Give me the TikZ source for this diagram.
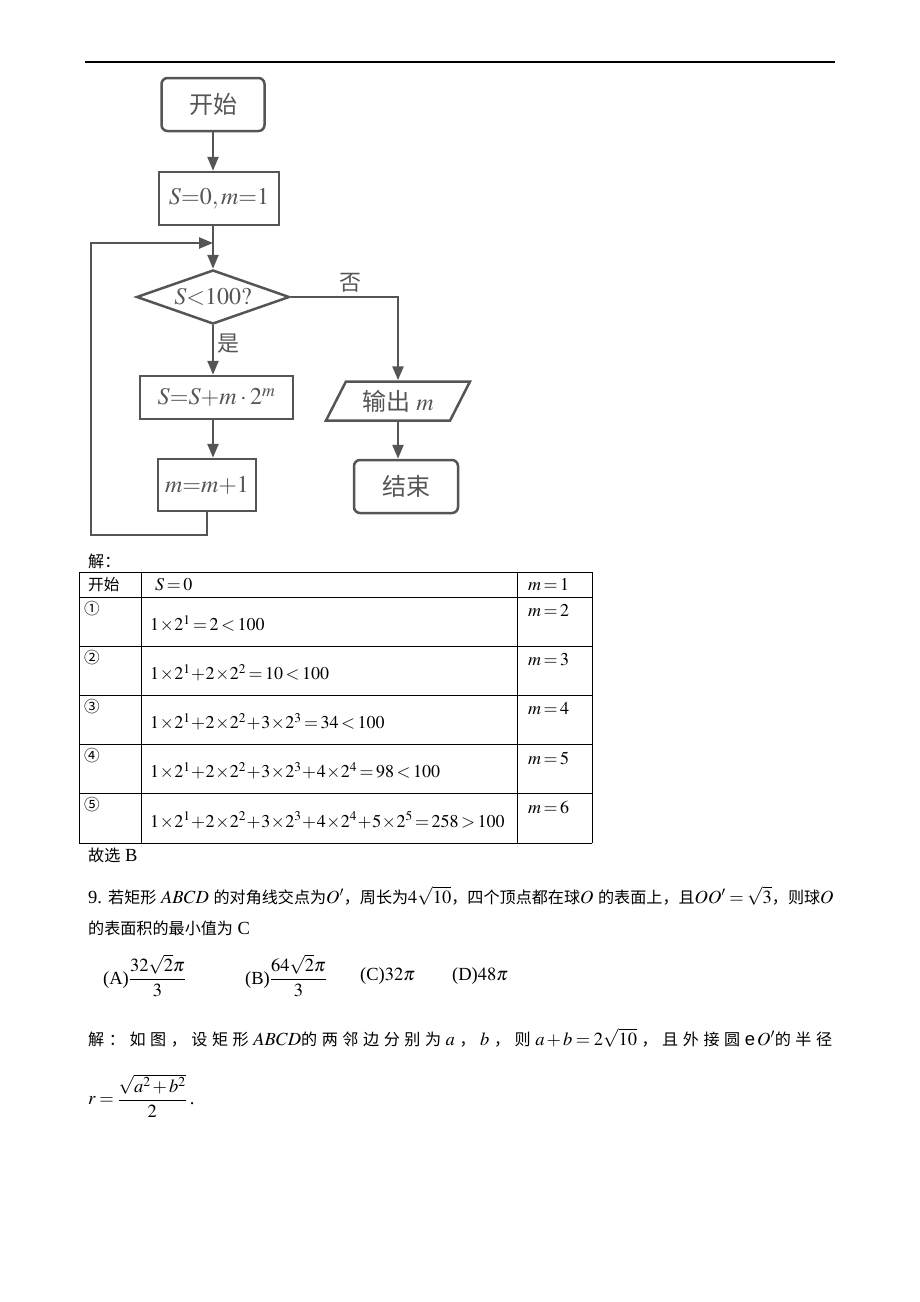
\documentclass[tikz,border=0pt]{standalone}
\usepackage{amsmath}
\usepackage{mathptmx}
\usepackage{fontspec}
\setmainfont{Liberation Serif}
\setsansfont{Liberation Sans}
\newfontfamily\cjk[Scale=0.87]{Noto Sans CJK SC}
\newfontfamily\cjkflow{Noto Sans CJK SC}
\usetikzlibrary{shapes.geometric,arrows.meta}
\definecolor{flowgray}{HTML}{555555}
\newcommand\tightmath{\medmuskip=2mu\thickmuskip=3.5mu}
\newcommand\tablemath{\medmuskip=0.6mu\thickmuskip=2.5mu}

\begin{document}
\begin{tikzpicture}[x=1pt,y=-1pt,
    flow/.style={draw=flowgray, line width=2.5pt, text=flowgray, inner sep=0pt, font=\fontsize{24}{28}\selectfont},
    term/.style={flow, rounded corners=6pt, minimum width=103pt, minimum height=53pt},
    proc/.style={flow, minimum height=43pt},
    decision/.style={flow, diamond, aspect=2.8, minimum width=153pt, minimum height=54pt},
    io/.style={flow, trapezium, trapezium left angle=48, trapezium right angle=132,
      trapezium stretches body, minimum width=144pt, minimum height=39pt},
    arr/.style={draw=flowgray, line width=2.5pt, -{Triangle[width=11pt,length=14pt]}},
    lbl/.style={text=flowgray, inner sep=3pt, font=\cjkflow\fontsize{22}{26}\selectfont},
    body/.style={anchor=west, inner sep=0pt, font=\fontsize{18.5}{22}\selectfont\tightmath},
    tab/.style={anchor=west, inner sep=0pt, font=\fontsize{18}{21}\selectfont\tablemath},
    tbl/.style={line width=1pt}]
  \useasboundingbox (0,0) rectangle (920,1302);
  \draw[line width=1.5pt] (85,62) -- (835,62);

  % flowchart
  \node[term] (start) at (213,104.5) {\cjkflow 开始};
  \node[proc, minimum width=120pt, minimum height=53pt] (init) at (219,198.5) {$S{=}0,m{=}1$};
  \node[decision] (cond) at (213,297) {$S{<}100?$};
  \node[proc, minimum width=153pt] (update) at (216.5,397.5) {$S{=}S{+}m\cdot 2^m$};
  \node[proc, minimum width=98pt, minimum height=52pt] (incr) at (207,485) {$m{=}m{+}1$};
  \node[io] (output) at (398,401) {{\cjkflow 输出} $m$};
  \node[term, minimum width=104pt] (stop) at (406,486.5) {\cjkflow 结束};
  \coordinate (join) at (213,243);
  \coordinate (loop) at (91,535);

  \draw[arr] (start) -- (start |- init.north);
  \draw[arr] (init.south -| cond.north) -- (cond.north);
  \draw[arr] (incr.south) |- (loop) |- (join);
  \draw[arr] (cond.south) -- (cond.south |- update.north) node[lbl, pos=.38, right] {是};
  \draw[arr] (cond.east) -| (output.north) node[lbl, pos=.28, above] {否};
  \draw[arr] (update.south -| cond.south) -- (cond.south |- incr.north);
  \draw[arr] (output.south) -- (output.south |- stop.north);

  % table
  \node[body] (sol) at (88,561) {\cjk 解：};
  \foreach \y in {572,597,646,695,744,793,843}
    \draw[tbl] (79,\y) -- (592,\y);
  \foreach \x in {79,141,517,592}
    \draw[tbl] (\x,572) -- (\x,843);
  \node[tab] (head) at (88,585) {\cjk 开始};
  \node[tab] (sum0) at (155,585) {$S=0$};
  \node[tab] (m1) at (528,585) {$m=1$};
  \foreach \top/\n/\f/\k in {
      597/①/{1\times2^1=2<100}/2,
      646/②/{1\times2^1+2\times2^2=10<100}/3,
      695/③/{1\times2^1+2\times2^2+3\times2^3=34<100}/4,
      744/④/{1\times2^1+2\times2^2+3\times2^3+4\times2^4=98<100}/5,
      793/⑤/{1\times2^1+2\times2^2+3\times2^3+4\times2^4+5\times2^5=258>100}/6} {
    \node[tab] (step\k) at (84,\top+12) {\cjk \n};
    \node[tab] (sum\k) at (150,\top+27) {$\f$};
    \node[tab] (m\k) at (528,\top+14) {$m=\k$};
  }
  \node[body] (pick) at (88,855) {{\cjk 故选} B};

  % question 9
  \node[body] (q9) at (88,896) {9. {\cjk 若矩形} $ABCD$ {\cjk 的对角线交点为}$O'${\cjk ，周长为}$4\sqrt{10}${\cjk ，四个顶点都在球}$O$ {\cjk 的表面上，且}$OO'=\sqrt{3}${\cjk ，则球}$O$};
  \node[body] (q9b) at (88,928) {{\cjk 的表面积的最小值为} C};
  \node[body] (optA) at (103,976) {(A)$\dfrac{32\sqrt{2}\pi}{3}$};
  \node[body] (optB) at (245,976) {(B)$\dfrac{64\sqrt{2}\pi}{3}$};
  \node[body] (optC) at (360,976) {(C)$32\pi$};
  \node[body] (optD) at (452,976) {(D)$48\pi$};
  \node[body] (sol9) at (88,1038) {\makebox[744pt][s]{{\cjk 解\hfill ：\hfill 如\hfill 图\hfill ，\hfill 设\hfill 矩\hfill 形}\hfill $ABCD${\cjk 的\hfill 两\hfill 邻\hfill 边\hfill 分\hfill 别\hfill 为}\hfill $a${\cjk \hfill ，}\hfill $b${\cjk \hfill ，\hfill 则}\hfill $a+b=2\sqrt{10}${\cjk \hfill ，\hfill 且\hfill 外\hfill 接\hfill 圆}\hfill {\sffamily e}$\,O'${\cjk 的\hfill 半\hfill 径}}};
  \node[body] (rad) at (88,1096) {$r=\dfrac{\sqrt{a^2+b^2}}{2}$\,.};
\end{tikzpicture}
\end{document}
